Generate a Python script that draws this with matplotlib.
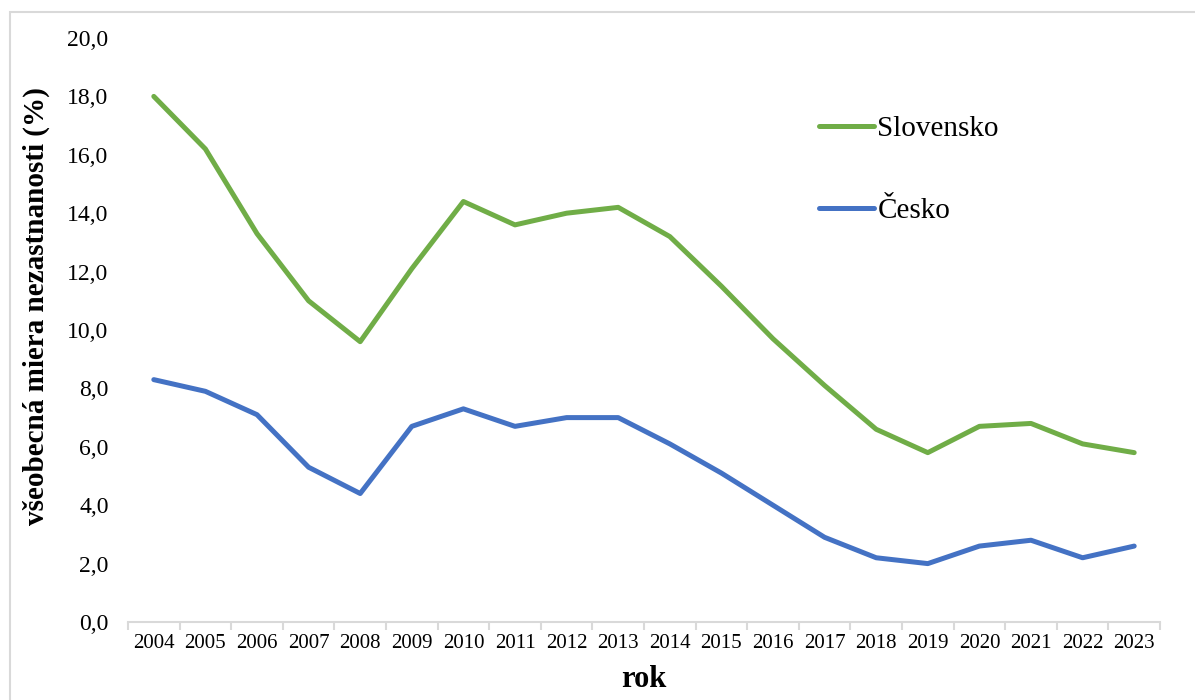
import matplotlib
matplotlib.use("Agg")
import matplotlib.pyplot as plt
from matplotlib.patches import Rectangle
from matplotlib.ticker import FuncFormatter, FixedLocator

plt.rcParams['font.family'] = ['Liberation Serif', 'DejaVu Serif']

years = [str(y) for y in range(2004, 2024)]
slovensko = [18.0, 16.2, 13.3, 11.0, 9.6, 12.1, 14.4, 13.6, 14.0, 14.2,
             13.2, 11.5, 9.7, 8.1, 6.6, 5.8, 6.7, 6.8, 6.1, 5.8]
cesko = [8.3, 7.9, 7.1, 5.3, 4.4, 6.7, 7.3, 6.7, 7.0, 7.0,
         6.1, 5.1, 4.0, 2.9, 2.2, 2.0, 2.6, 2.8, 2.2, 2.6]

W, H = 1195, 700
fig = plt.figure(figsize=(W / 100, H / 100), dpi=100)
ax = fig.add_axes([128 / W, 1 - 622 / H, (1160 - 128) / W, (622 - 38) / H])

x = list(range(len(years)))
ax.plot(x, slovensko, color='#70AD47', lw=3.6, solid_capstyle='round',
        solid_joinstyle='round', label='Slovensko')
ax.plot(x, cesko, color='#4472C4', lw=3.6, solid_capstyle='round',
        solid_joinstyle='round', label='Česko')

ax.set_xlim(-0.5, len(years) - 0.5)
ax.set_ylim(0, 20)
ax.set_yticks(range(0, 21, 2))
ax.yaxis.set_major_formatter(FuncFormatter(lambda v, p: f"{v:.1f}".replace('.', ',')))
ax.set_xticks(x)
ax.set_xticklabels(years)
ax.xaxis.set_minor_locator(FixedLocator([i - 0.5 for i in range(len(years) + 1)]))

for s in ['top', 'right', 'left']:
    ax.spines[s].set_visible(False)
ax.spines['bottom'].set_color('#D9D9D9')
ax.spines['bottom'].set_linewidth(1.5)

ax.tick_params(axis='y', length=0, pad=14, labelsize=17)
ax.tick_params(axis='x', which='major', length=0, pad=9, labelsize=15)
ax.tick_params(axis='x', which='minor', length=6, width=1.5, color='#D9D9D9')

ax.set_ylabel('všeobecná miera nezastnanosti (%)', fontsize=21, fontweight='bold')
ax.yaxis.set_label_coords((50 - 128) / 1032, (622 - 306) / 584)
ax.set_xlabel('rok', fontsize=22, fontweight='bold', labelpad=8)

ax.legend(loc='upper left', bbox_to_anchor=(819 / W, 1 - 116 / H),
          bbox_transform=fig.transFigure, frameon=False, fontsize=21,
          handlelength=1.9, handletextpad=0.1, labelspacing=1.9,
          borderpad=0, borderaxespad=0)

fig.add_artist(Rectangle((10 / W, -0.5), 2, 1.5 - 12 / H, transform=fig.transFigure,
                         fill=False, edgecolor='#D9D9D9', lw=1.5))

fig.savefig('out.png', dpi=100)
